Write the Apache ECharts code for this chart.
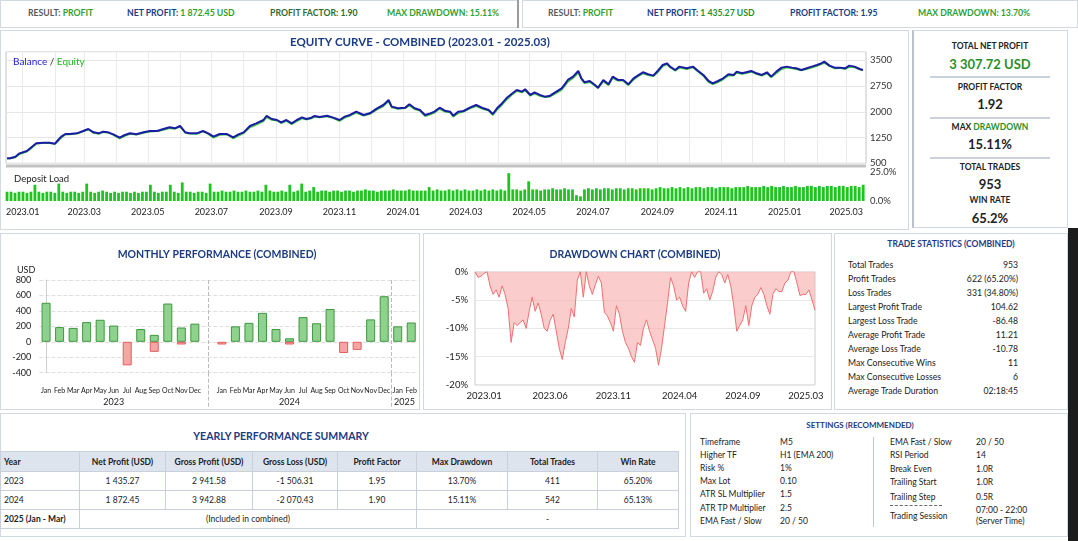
<!DOCTYPE html>
<html>
<head>
<meta charset="utf-8">
<title>Backtest dashboard</title>
<script src="https://cdn.jsdelivr.net/npm/echarts@6.0.0/dist/echarts.min.js"></script>
<style>
  html, body { margin: 0; padding: 0; }
  body { width: 1078px; height: 541px; overflow: hidden; position: relative; background: #fff;
         font-family: Lato, "Noto Sans", sans-serif; color: #222; }
  .panel { position: absolute; box-sizing: border-box; border: 1px solid #d3d9e3; background: #fff; }
  .t { position: absolute; white-space: nowrap; line-height: 1; }
  .c { transform: translate(-50%, -50%); }
  .m { transform: translateY(-50%); }
  .r { transform: translate(-100%, -50%); }
  .b { font-weight: 700; }
  .navy { color: #1c3c82; }
  .g { color: #2a8f2a; }
  .lg { color: #2fa02f; }
  .gray { color: #5a5a5a; }
  .rule { position: absolute; background: #c9d1dc; height: 2px; }
  .chart { position: absolute; }
  table.yr { position: absolute; left: 0; top: 451px; border-collapse: collapse; table-layout: fixed;
             font-size: 8.5px; color: #222; }
  table.yr td, table.yr th { border: 1px solid #c9d0db; text-align: center; padding: 0; height: 18px; }
  table.yr th { background: #dde4ee; font-weight: 700; height: 19px; }
  table.yr .yl { text-align: left; padding-left: 3px; }
</style>
</head>
<body>

<!-- top summary bars -->
<div class="panel" style="left:0;top:0;width:519px;height:28px"></div>
<div style="position:absolute;left:517px;top:0;width:2px;height:28px;background:#9c9c9c"></div>
<div class="panel" style="left:522px;top:0;width:556px;height:28px"></div>
<div id="topbar"></div>

<!-- equity panel -->
<div class="panel" style="left:0;top:30px;width:909px;height:200px"></div>
<div id="equity" class="chart" style="left:0;top:30px;width:909px;height:200px"></div>

<!-- right summary -->
<div class="panel" style="left:912px;top:30px;width:156px;height:198px;border-left:2px solid #b9c1cc"></div>
<div id="summary"></div>

<!-- monthly / drawdown / stats -->
<div class="panel" style="left:0;top:233px;width:420px;height:177px"></div>
<div id="monthly" class="chart" style="left:0;top:233px;width:420px;height:177px"></div>
<div class="panel" style="left:423px;top:233px;width:409px;height:177px"></div>
<div id="drawdown" class="chart" style="left:423px;top:233px;width:409px;height:177px"></div>
<div class="panel" style="left:834px;top:233px;width:234px;height:177px"></div>
<div id="stats"></div>

<!-- yearly table / settings -->
<div class="panel" style="left:0;top:413px;width:686px;height:124px"></div>
<div class="t c b navy" style="left:281px;top:436px;font-size:10.5px">YEARLY PERFORMANCE SUMMARY</div>
<table class="yr" id="yearly"></table>
<div class="panel" style="left:690px;top:413px;width:378px;height:124px"></div>
<div id="settings"></div>

<div style="position:absolute;left:1068px;top:228px;width:10px;height:313px;background:#1c1c1c"></div>

<script>
// ---------------- data ----------------
const topLeft = [
  ['RESULT:', 'PROFIT', 28],
  ['NET PROFIT:', '1 872.45 USD', 127],
  ['PROFIT FACTOR:', '1.90', 270],
  ['MAX DRAWDOWN:', '15.11%', 387]
];
const topRight = [
  ['RESULT:', 'PROFIT', 548],
  ['NET PROFIT:', '1 435.27 USD', 647],
  ['PROFIT FACTOR:', '1.95', 790],
  ['MAX DRAWDOWN:', '13.70%', 918]
];

// balance / equity, x = days since 2023-01-01
const balanceDays = [
  -15, -12, -7, -3, 4, 9, 13, 20, 26, 31,
  34, 37, 41, 45, 52, 58, 63, 68, 73, 77,
  82, 87, 93, 98, 103, 109, 116, 122, 129, 135,
  141, 146, 151, 156, 160, 167, 173, 178, 183, 189,
  196, 202, 207, 212, 218, 224, 231, 234, 239, 244,
  248, 253, 258, 263, 268, 272, 277, 280, 285, 292,
  298, 304, 309, 314, 320, 327, 333, 340, 346, 351,
  354, 360, 367, 371, 376, 381, 386, 391, 395, 400,
  405, 410, 413, 418, 423, 429, 435, 442, 447, 451,
  455, 459, 464, 469, 474, 479, 482, 487, 491, 496,
  501, 506, 512, 517, 520, 523, 528, 533, 536, 539,
  544, 549, 552, 557, 562, 566, 571, 576, 581, 586,
  590, 595, 600, 605, 610, 614, 618, 621, 626, 630,
  637, 643, 648, 653, 658, 662, 667, 672, 677, 682,
  685, 690, 694, 699, 704, 709, 714, 718, 723, 728,
  733, 738, 742, 747, 752, 757, 762, 766, 769, 774,
  779, 784, 789, 793, 798, 803, 806
];
const balance = [
  645, 645, 693, 790, 858, 984, 1082, 1101, 1101, 1072,
  1179, 1276, 1353, 1353, 1373, 1441, 1499, 1402, 1373, 1421,
  1402, 1344, 1247, 1324, 1373, 1344, 1402, 1441, 1441, 1499,
  1548, 1519, 1587, 1402, 1373, 1373, 1441, 1373, 1276, 1353,
  1353, 1256, 1344, 1402, 1587, 1664, 1761, 1878, 1790, 1761,
  1693, 1761, 1664, 1761, 1839, 1790, 1829, 1878, 1849, 1887,
  1829, 1761, 1858, 1907, 2004, 1907, 1955, 2101, 2198, 2344,
  2150, 2101, 2121, 2218, 2101, 2053, 1907, 1955, 2004, 2120,
  2033, 2004, 1887, 2004, 2023, 2120, 2198, 2101, 2053, 1936,
  2101, 2218, 2392, 2519, 2635, 2587, 2655, 2490, 2567, 2490,
  2441, 2470, 2587, 2684, 2800, 2927, 3024, 3189, 2975, 2859,
  2897, 2781, 2703, 2927, 2800, 3024, 2927, 2927, 2800, 2975,
  3053, 3150, 3092, 3053, 3218, 3363, 3412, 3315, 3218, 3315,
  3266, 3315, 3189, 3072, 2897, 2829, 2897, 2975, 3092, 3072,
  3169, 3121, 3150, 3189, 3121, 3072, 3150, 3024, 3169, 3286,
  3315, 3286, 3266, 3218, 3266, 3315, 3363, 3412, 3460, 3344,
  3286, 3286, 3266, 3344, 3315, 3247, 3218
];
const equity = [
  630, 640, 670, 760, 835, 950, 1060, 1090, 1085, 1060,
  1140, 1240, 1330, 1340, 1360, 1420, 1480, 1380, 1350, 1400,
  1390, 1320, 1220, 1290, 1350, 1330, 1380, 1420, 1430, 1470,
  1520, 1500, 1560, 1380, 1360, 1350, 1420, 1350, 1240, 1320,
  1340, 1220, 1300, 1370, 1540, 1620, 1720, 1840, 1760, 1740,
  1660, 1730, 1630, 1720, 1800, 1770, 1800, 1850, 1830, 1860,
  1810, 1730, 1820, 1880, 1970, 1880, 1930, 2060, 2160, 2290,
  2120, 2080, 2100, 2180, 2070, 2030, 1870, 1920, 1970, 2080,
  2000, 1980, 1850, 1960, 2000, 2090, 2160, 2070, 2030, 1900,
  2050, 2170, 2340, 2480, 2600, 2560, 2620, 2460, 2530, 2460,
  2420, 2440, 2540, 2630, 2750, 2870, 2980, 3130, 2940, 2830,
  2860, 2750, 2680, 2880, 2770, 2980, 2900, 2900, 2770, 2930,
  3020, 3110, 3060, 3030, 3170, 3320, 3380, 3290, 3190, 3280,
  3240, 3290, 3160, 3040, 2860, 2800, 2860, 2940, 3050, 3050,
  3130, 3100, 3120, 3160, 3090, 3050, 3110, 3000, 3120, 3240,
  3290, 3260, 3240, 3200, 3240, 3280, 3330, 3380, 3420, 3320,
  3260, 3270, 3240, 3300, 3290, 3230, 3200
];

// deposit load %, one bar per ~4 days from mid-Dec 2022
const depositLoad = [
  8, 8, 7, 8, 8, 7, 8, 14,   8, 7, 8, 8, 7, 15, 8, 7,
  8, 8, 7, 8, 15, 8, 7, 8,   9, 8, 7, 8, 7, 8, 8, 7,
  8, 7, 8, 8, 14, 8, 7, 8,   8, 14, 8, 7, 16, 8, 8, 7,
  8, 8, 7, 15, 8, 8, 9, 8,   8, 9, 8, 8, 9, 8, 8, 9,
  8, 14, 9, 8, 8, 9, 8, 14,  8, 9, 15, 8, 9, 12, 8, 9,
  9, 8, 9, 9, 8, 9, 9, 8,    9, 9, 10, 9, 9, 8, 9, 9,
  9, 10, 9, 9, 9, 10, 9, 9,  9, 9, 12, 9, 10, 9, 9, 10,
  9, 10, 9, 10, 9, 9, 10, 9, 10, 9, 10, 9, 10, 9, 24, 10,
  10, 9, 10, 17, 10, 10, 9, 10, 10, 11, 10, 10, 11, 10, 10, 5,
  4, 10, 11, 10, 11, 10, 11, 11, 10, 11, 11, 10, 11, 11, 10, 11,
  11, 11, 10, 11, 12, 11, 11, 12, 11, 12, 11, 12, 11, 12, 12, 11,
  12, 12, 11, 12, 12, 12, 11, 12, 12, 12, 13, 12, 12, 12, 13, 12,
  13, 12, 12, 13, 12, 12, 13, 12, 12, 13, 13, 12, 13, 12, 13, 13,
  12, 13, 13, 12, 13, 13, 12, 14
];

// monthly performance (USD); slot 12 is the empty gap between years
const monthLabels = ['Jan','Feb','Mar','Apr','May','Jun','Jul','Aug','Sep','Oct','Nov','Dec','',
  'Jan','Feb','Mar','Apr','May','Jun','Jul','Aug','Sep','Oct','Nov','Nov','Dec',
  'Jan','Feb'];
const monthProfit = [505, 190, 180, 255, 285, 210, null, 165, 90, 495, 185, 235, null,
  null, 200, 245, 375, 165, 45, 320, 240, 425, null, null, 290, 590,
  200, 250];
const monthLoss = [null, null, null, null, null, null, -305, null, -130, null, -35, null, null,
  -35, null, null, null, null, -35, null, null, null, -145, -105, null, null,
  null, null];
const yearNames = ['2023', '2024', '2025'];

// drawdown % (sampled along the period)
const ddValues = [
  0, -1, -0.8, -0.3, 0, -2.5, -4, -3.2, -4.5, -2.5,
  -4, -6.5, -12.5, -9, -9.5, -9, -8.5, -10, -7, -4.5,
  -7, -5.5, -7.5, -10, -10.5, -8.5, -7.5, -10.5, -13.5, -15.5,
  -12.5, -10, -6.5, -8, -1.5, 0, -4.5, 0, -2.5, -4,
  -2.3, -0.8, -2, -7.2, -7.8, -9, -10.5, -6, -7.5, -10.5,
  -12.5, -13.5, -15, -16, -12.5, -13, -10, -8.5, -10.5, -12,
  -13.5, -16.5, -13.5, -9.5, -5.5, -1, -2.5, -5, -4.5, -6,
  -7, -2, 0, -1, 0, 0, -3.8, -3, -5, -3.5,
  -1, 0, -0.5, -2, -0.5, -2.5, -6, -10.5, -9.5, -8.5,
  -6, -9.5, -6, -4.5, -4, -2.8, -4, -6, -7.5, -4,
  -3, -3.5, -3.5, -2, -1.5, 0, 0, -2, -4.2, -4,
  -4, -3.2, -5, -6.8
];
const ddTickIdx = [3, 25, 46, 68, 89, 110];
const ddTickText = ['2023.01', '2023.06', '2023.11', '2024.04', '2024.09', '2025.03'];

const summary = [
  ['TOTAL NET PROFIT', '3 307.72 USD', true],
  ['PROFIT FACTOR', '1.92', false],
  ['MAX DRAWDOWN', '15.11%', false],
  ['TOTAL TRADES', '953', false],
  ['WIN RATE', '65.2%', false]
];

const statLabels = ['Total Trades', 'Profit Trades', 'Loss Trades', 'Largest Profit Trade', 'Largest Loss Trade',
  'Average Profit Trade', 'Average Loss Trade', 'Max Consecutive Wins', 'Max Consecutive Losses', 'Average Trade Duration'];
const statValues = ['953', '622 (65.20%)', '331 (34.80%)', '104.62', '-86.48', '11.21', '-10.78', '11', '6', '02:18:45'];

const yearlyHead = ['Year', 'Net Profit (USD)', 'Gross Profit (USD)', 'Gross Loss (USD)', 'Profit Factor', 'Max Drawdown', 'Total Trades', 'Win Rate'];
const yearlyRows = [
  ['2023', '1 435.27', '2 941.58', '-1 506.31', '1.95', '13.70%', '411', '65.20%'],
  ['2024', '1 872.45', '3 942.88', '-2 070.43', '1.90', '15.11%', '542', '65.13%']
];

const settingsLeft = [['Timeframe', 'M5'], ['Higher TF', 'H1 (EMA 200)'], ['Risk %', '1%'], ['Max Lot', '0.10'],
  ['ATR SL Multiplier', '1.5'], ['ATR TP Multiplier', '2.5'], ['EMA Fast / Slow', '20 / 50']];
const settingsRight = [['EMA Fast / Slow', '20 / 50'], ['RSI Period', '14'], ['Break Even', '1.0R'],
  ['Trailing Start', '1.0R'], ['Trailing Step', '0.5R'], ['Trading Session', '07:00 - 22:00']];

// ---------------- html panels ----------------
function txt(cls, x, y, size, html, extra) {
  return `<div class="t ${cls}" style="left:${x}px;top:${y}px;font-size:${size}px;${extra || ''}">${html}</div>`;
}

let h = '';
topLeft.forEach((p, i) => {
  const lab = i === 0 ? 'gray' : i === 1 ? 'navy' : i === 2 ? '' : 'lg';
  const labStyle = i === 2 ? 'color:#2f6a2f' : '';
  const val = i === 2 ? 'color:#2f6a2f' : '';
  h += txt('m b', p[2], 13, 8.7, `<span class="${lab}" style="${labStyle}">${p[0]}</span> <span class="lg" style="${val}">${p[1]}</span>`);
});
topRight.forEach((p, i) => {
  const lab = i === 0 ? 'gray' : i === 3 ? 'lg' : 'navy';
  const val = i === 2 ? 'navy' : i === 1 ? 'g' : 'lg';
  h += txt('m b', p[2], 13, 8.7, `<span class="${lab}">${p[0]}</span> <span class="${val}">${p[1]}</span>`);
});
document.getElementById('topbar').innerHTML = h;

h = '';
const sumY = [[46, 64], [87, 104], [127, 144], [167, 184], [200, 218]];
summary.forEach((s, i) => {
  let lab = s[0];
  if (i === 2) lab = 'MAX <span class="g">DRAWDOWN</span>';
  h += txt('c b', 990, sumY[i][0], 8.5, lab);
  h += txt('c b' + (s[2] ? ' g' : ''), 990, sumY[i][1], 13, s[1]);
});
[76, 117, 157].forEach(y => { h += `<div class="rule" style="left:930px;top:${y}px;width:120px"></div>`; });
document.getElementById('summary').innerHTML = h;

h = txt('c b navy', 951, 244, 8.5, 'TRADE STATISTICS (COMBINED)');
statLabels.forEach((l, i) => {
  const y = 265 + i * 14.05;
  h += txt('m', 848, y, 8.7, l);
  h += txt('r', 1018, y, 8.7, statValues[i]);
});
document.getElementById('stats').innerHTML = h;

const colW = [79, 86, 87, 85, 79, 91, 90, 81];
let tb = '<colgroup>' + colW.map(w => `<col style="width:${w}px">`).join('') + '</colgroup>';
tb += '<tr>' + yearlyHead.map((c, i) => `<th class="${i === 0 ? 'yl' : ''}">${c}</th>`).join('') + '</tr>';
yearlyRows.forEach(r => {
  tb += '<tr>' + r.map((c, i) => `<td class="${i === 0 ? 'yl' : ''}">${c}</td>`).join('') + '</tr>';
});
tb += '<tr><td class="yl b">2025 (Jan - Mar)</td><td colspan="4">(Included in combined)</td><td colspan="3">-</td></tr>';
const yearlyTable = document.getElementById('yearly');
yearlyTable.innerHTML = tb;
yearlyTable.style.width = colW.reduce((a, b) => a + b, 0) + 'px';

h = txt('c b navy', 860, 425, 8, 'SETTINGS (RECOMMENDED)');
const leftY = [442, 455, 468, 481, 494, 508, 521];
settingsLeft.forEach((s, i) => {
  h += txt('m', 700, leftY[i], 8.5, s[0]);
  h += txt('m', 780, leftY[i], 8.5, s[1]);
});
const rightY = [442, 455, 469, 482, 497, 516];
settingsRight.forEach((s, i) => {
  h += txt('m', 890, rightY[i], 8.5, s[0]);
  if (i < 5) h += txt('m', 976, rightY[i], 8.5, s[1]);
});
h += txt('m', 976, 510, 8.5, settingsRight[5][1]);
h += txt('m', 976, 521, 8.5, '(Server Time)');
h += '<div style="position:absolute;left:890px;top:505px;width:52px;border-bottom:1px dashed #666"></div>';
h += '<div style="position:absolute;left:873px;top:437px;width:1px;height:90px;background:#bfc5ce"></div>';
document.getElementById('settings').innerHTML = h;

// ---------------- charts ----------------
const FONT = 'Lato, "Noto Sans", sans-serif';
const DAY0 = Date.UTC(2023, 0, 1);
const monthDays = [];
const monthText = {};
for (let i = 0; i < 27; i++) {
  const t = Date.UTC(2023, i, 1);
  const d = Math.round((t - DAY0) / 864e5);
  const dt = new Date(t);
  monthDays.push(d);
  monthText[d] = dt.getUTCFullYear() + '.' + String(dt.getUTCMonth() + 1).padStart(2, '0');
}
const labelDays = monthDays.filter((d, i) => i % 2 === 0);
const X_MIN = -16, X_MAX = 809;

const equityChart = echarts.init(document.getElementById('equity'));
equityChart.setOption({
  animation: false,
  textStyle: { fontFamily: FONT },
  title: [
    { text: 'EQUITY CURVE - COMBINED (2023.01 - 2025.03)', left: 415, top: 1, textAlign: 'center',
      textStyle: { fontSize: 11.5, fontWeight: 'bold', color: '#1c3c82', fontFamily: FONT } },
    { text: '{b|Balance} / {e|Equity}', left: 8, top: 22,
      textStyle: { fontSize: 10, color: '#333', fontWeight: 'normal', fontFamily: FONT,
        rich: { b: { color: '#1a1ad0', fontSize: 10, fontFamily: FONT }, e: { color: '#22b822', fontSize: 10, fontFamily: FONT } } } },
    { text: 'Deposit Load', left: 9, top: 139,
      textStyle: { fontSize: 9.5, color: '#222', fontWeight: 'normal', fontFamily: FONT } }
  ],
  grid: [
    { left: 6, top: 21.7, width: 860, height: 111.6, show: true, borderColor: '#c4c4c4', borderWidth: 1, outerBoundsMode: 'none' },
    { left: 6, top: 142, width: 860, height: 29, outerBoundsMode: 'none' }
  ],
  xAxis: [
    { type: 'value', gridIndex: 0, min: X_MIN, max: X_MAX,
      axisLine: { show: false }, axisTick: { show: false, customValues: monthDays },
      axisLabel: { show: false }, splitLine: { show: true, lineStyle: { color: '#ebebeb' } } },
    { type: 'value', gridIndex: 1, min: X_MIN, max: X_MAX,
      axisLine: { show: false }, axisTick: { show: false, customValues: labelDays },
      splitLine: { show: false },
      axisLabel: { customValues: labelDays, formatter: v => monthText[Math.round(v)] || '',
        fontSize: 9, color: '#222', margin: 7, fontFamily: FONT } }
  ],
  yAxis: [
    { type: 'value', gridIndex: 0, position: 'right', min: 500, max: 3750, interval: 750,
      axisLine: { show: false }, axisTick: { show: false },
      axisLabel: { formatter: v => ((v - 500) % 750 === 0 ? String(v) : ''), fontSize: 9.5, color: '#333', margin: 4, fontFamily: FONT },
      splitLine: { lineStyle: { color: '#e6e6e6' } } },
    { type: 'value', gridIndex: 1, position: 'right', min: 0, max: 25, interval: 25,
      axisLine: { show: false }, axisTick: { show: false }, splitLine: { show: false },
      axisLabel: { formatter: v => v.toFixed(1) + '%', fontSize: 9.5, color: '#333', margin: 4, fontFamily: FONT } }
  ],
  graphic: [
    { type: 'rect', shape: { x: 6, y: 134.5, width: 860, height: 3 }, style: { fill: '#c2c2c2' } }
  ],
  series: [
    { name: 'Equity', type: 'line', xAxisIndex: 0, yAxisIndex: 0, symbol: 'none', z: 2,
      data: balanceDays.map((d, i) => [d, equity[i]]),
      lineStyle: { color: '#36c936', width: 1.4 } },
    { name: 'Balance', type: 'line', xAxisIndex: 0, yAxisIndex: 0, symbol: 'none', z: 3,
      data: balanceDays.map((d, i) => [d, balance[i]]),
      lineStyle: { color: '#1b1ba6', width: 2 } },
    { name: 'Deposit Load', type: 'bar', xAxisIndex: 1, yAxisIndex: 1, barWidth: 2.8,
      data: depositLoad.map((v, i) => [-15 + i * 3.82, v]),
      itemStyle: { color: '#1fc51f' } }
  ]
});

const monthlyChart = echarts.init(document.getElementById('monthly'));
monthlyChart.setOption({
  animation: false,
  textStyle: { fontFamily: FONT },
  title: [
    { text: 'MONTHLY PERFORMANCE (COMBINED)', left: 212, top: 11, textAlign: 'center',
      textStyle: { fontSize: 10.5, fontWeight: 'bold', color: '#1c3c82', fontFamily: FONT } },
    { text: 'USD', left: 12, top: 28, textStyle: { fontSize: 9, fontWeight: 'normal', color: '#222', fontFamily: FONT } }
  ],
  grid: { left: 39.3, top: 47, width: 378.7, height: 92.7, outerBoundsMode: 'none' },
  xAxis: [
    { type: 'category', data: monthLabels, offset: 9,
      axisLine: { show: false },
      axisTick: { alignWithLabel: true, length: 3, lineStyle: { color: '#aaa' }, interval: i => monthLabels[i] !== '' },
      axisLabel: { interval: 0, fontSize: 7, color: '#222', margin: 6, fontFamily: FONT },
      splitLine: { show: false } },
    { type: 'value', min: -0.5, max: 27.5, position: 'bottom',
      axisLine: { show: false },
      axisTick: { show: true, customValues: [12, 25.5], length: 36, lineStyle: { color: '#bbb', type: 'dashed' } },
      splitLine: { show: true, lineStyle: { color: '#bbb', type: 'dashed' } },
      axisLabel: { customValues: [5, 18, 26.5], formatter: v => (v < 12 ? yearNames[0] : v < 25.5 ? yearNames[1] : yearNames[2]),
        fontSize: 9, color: '#222', margin: 25, fontFamily: FONT } }
  ],
  yAxis: {
    type: 'value', min: -400, max: 800, interval: 200,
    axisLine: { show: true, lineStyle: { color: '#cfcfcf' } }, axisTick: { show: false },
    axisLabel: { fontSize: 9, color: '#222', margin: 8, fontFamily: FONT },
    splitLine: { lineStyle: { color: '#dedede', type: 'dashed' } }
  },
  series: [
    { name: 'Profit', type: 'bar', xAxisIndex: 0, data: monthProfit, barWidth: 9, barGap: '-100%',
      itemStyle: { color: 'rgba(130,205,130,0.9)', borderColor: '#3f973f', borderWidth: 1 } },
    { name: 'Loss', type: 'bar', xAxisIndex: 0, data: monthLoss, barWidth: 9, barGap: '-100%',
      itemStyle: { color: 'rgba(245,160,160,0.95)', borderColor: '#e06060', borderWidth: 1 } }
  ]
});

const ddChart = echarts.init(document.getElementById('drawdown'));
ddChart.setOption({
  animation: false,
  textStyle: { fontFamily: FONT },
  title: { text: 'DRAWDOWN CHART (COMBINED)', left: 207, top: 11, textAlign: 'center',
    textStyle: { fontSize: 10.5, fontWeight: 'bold', color: '#1c3c82', fontFamily: FONT } },
  grid: { left: 52, top: 38.7, width: 340, height: 113.3, show: true, borderColor: '#cccccc', outerBoundsMode: 'none' },
  xAxis: {
    type: 'category', boundaryGap: false, data: ddValues.map((v, i) => i),
    axisLine: { show: false }, axisTick: { show: false },
    axisLabel: { interval: i => ddTickIdx.includes(i), formatter: (v, i) => ddTickText[ddTickIdx.indexOf(i)] || '',
      fontSize: 9.5, color: '#222', margin: 6, fontFamily: FONT },
    splitLine: { show: false }
  },
  yAxis: {
    type: 'value', min: -20, max: 0, interval: 5,
    axisLine: { show: false }, axisTick: { show: false },
    axisLabel: { formatter: v => v + '%', fontSize: 9.5, color: '#222', margin: 7, fontFamily: FONT },
    splitLine: { lineStyle: { color: '#e8e8e8' } }
  },
  series: [{
    type: 'line', data: ddValues, symbol: 'none',
    lineStyle: { color: '#f07070', width: 1 },
    areaStyle: { color: 'rgba(248,170,170,0.85)' }
  }]
});
</script>
</body>
</html>
